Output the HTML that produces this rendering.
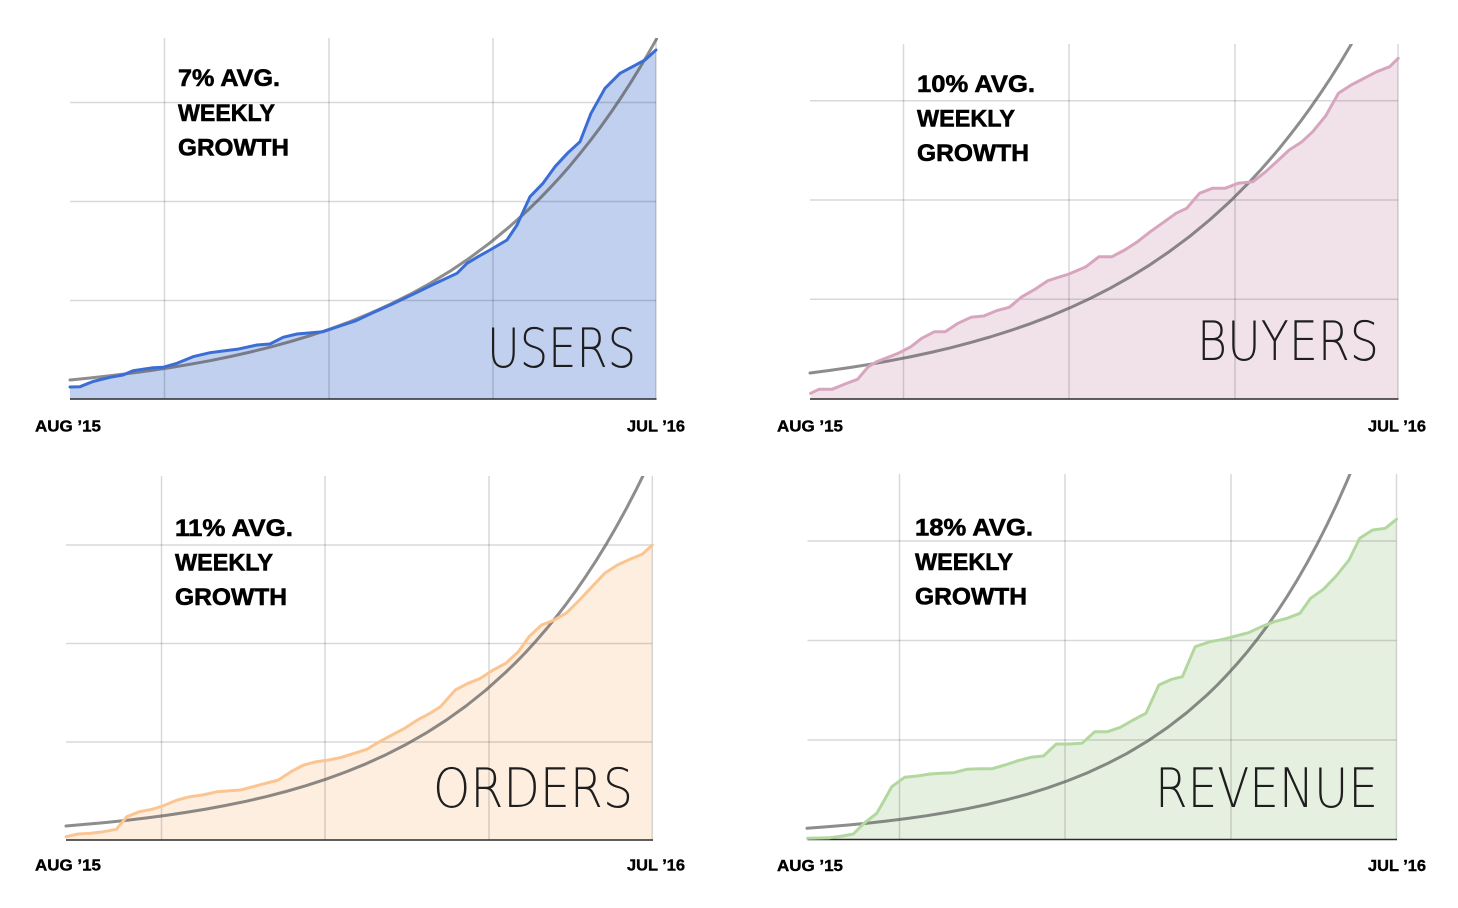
<!DOCTYPE html>
<html>
<head>
<meta charset="utf-8">
<style>
html,body{margin:0;padding:0;background:#fff;}
svg{display:block;}
.t{font-family:"Liberation Sans",Arial,sans-serif;font-weight:bold;fill:#000;stroke:#000;stroke-width:0.6;}
.ax{font-family:"Liberation Sans",Arial,sans-serif;font-weight:bold;font-size:16px;fill:#000;stroke:#000;stroke-width:0.4;}
.big{font-family:"DejaVu Sans ExtraLight","DejaVu Sans","Liberation Sans",sans-serif;font-weight:200;font-size:54px;fill:#1e1e1e;}
.grid{stroke:#000;stroke-opacity:0.15;stroke-width:1.5;fill:none;}
.base{stroke:#2a2a2a;stroke-width:1.5;}
.trend{fill:none;stroke:#505050;stroke-opacity:0.65;stroke-width:3;stroke-linejoin:round;stroke-linecap:round;}
.ser{fill:none;stroke-width:3;stroke-linejoin:round;stroke-linecap:round;}
</style>
</head>
<body>
<svg width="1458" height="908" viewBox="0 0 1458 908" xmlns="http://www.w3.org/2000/svg">
<defs>
<clipPath id="c1"><rect x="68" y="38" width="590" height="362"/></clipPath>
<clipPath id="c2"><rect x="808" y="44" width="592" height="356"/></clipPath>
<clipPath id="c3"><rect x="64" y="476" width="590" height="365"/></clipPath>
<clipPath id="c4"><rect x="805" y="474" width="593" height="366"/></clipPath>
</defs>
<rect width="1458" height="908" fill="#fff"/>

<!-- ============ CHART 1 USERS ============ -->
<polygon fill="#c1d0ef" points="70,387 80,386.7 93,381.5 110,377.3 123,375 133,370.7 153,367.7 163,367.3 177,363.3 193,356.7 210,352.7 223,351 237,349.3 257,345 270,344 283,337.3 297,334 317,332.3 323,331.7 340,326 356,320.7 373,312.7 394,303.3 415,293.3 432,285 457,273.3 467,263.3 478,256.7 490,250 507,240 517,225 530,196.7 543,183.3 555,166.7 568,152.7 580,141.7 591,113.3 605,88.3 620,73.3 632.5,66.7 645,60 656,50 656,399 70,399"/>
<g class="grid">
<line x1="70" y1="102.5" x2="656" y2="102.5"/>
<line x1="70" y1="201.5" x2="656" y2="201.5"/>
<line x1="70" y1="300.5" x2="656" y2="300.5"/>
<line x1="164.5" y1="38" x2="164.5" y2="399"/>
<line x1="329" y1="38" x2="329" y2="399"/>
<line x1="493" y1="38" x2="493" y2="399"/>
<line x1="656" y1="38" x2="656" y2="399"/>
</g>
<line class="base" x1="70" y1="399" x2="656.5" y2="399"/>
<g clip-path="url(#c1)">
<polyline class="trend" points="70,380 90,378 110,375.8 130,373.3 150,370.6 170,367.6 190,364.3 210,360.7 230,356.6 250,352.1 270,347.2 290,341.7 310,335.7 330,329 350,321.6 370,313.4 390,304.4 410,294.4 430,283.4 450,271.2 470,257.7 490,242.8 510,226.3 520,217.4 530,208.1 540,198.3 550,187.9 560,177.1 570,165.7 580,153.6 590,141 600,127.8 610,113.8 620,99.1 630,83.7 640,67.5 648,54 656,39.9 660,32.5"/>
</g>
<polyline class="ser" stroke="#3a6ed6" points="70,387 80,386.7 93,381.5 110,377.3 123,375 133,370.7 153,367.7 163,367.3 177,363.3 193,356.7 210,352.7 223,351 237,349.3 257,345 270,344 283,337.3 297,334 317,332.3 323,331.7 340,326 356,320.7 373,312.7 394,303.3 415,293.3 432,285 457,273.3 467,263.3 478,256.7 490,250 507,240 517,225 530,196.7 543,183.3 555,166.7 568,152.7 580,141.7 591,113.3 605,88.3 620,73.3 632.5,66.7 645,60 656,50"/>
<text class="t" x="178" y="86" font-size="24.5" textLength="102" lengthAdjust="spacingAndGlyphs">7% AVG.</text>
<text class="t" x="178" y="121" font-size="24.5" textLength="97" lengthAdjust="spacingAndGlyphs">WEEKLY</text>
<text class="t" x="178" y="155.5" font-size="24.5" textLength="111" lengthAdjust="spacingAndGlyphs">GROWTH</text>
<text class="big" x="487" y="367" textLength="149" lengthAdjust="spacingAndGlyphs">USERS</text>
<text class="ax" x="35" y="431.5" textLength="66" lengthAdjust="spacingAndGlyphs">AUG ’15</text>
<text class="ax" x="627" y="431.5" textLength="58" lengthAdjust="spacingAndGlyphs">JUL ’16</text>

<!-- ============ CHART 2 BUYERS ============ -->
<polygon fill="#f1e2ea" points="810.6,393.3 819,389.3 832,389.3 845,384 857.6,379.3 868.3,366.7 876.8,361.7 889.7,356.7 898.2,353.3 911,346.7 921.7,338.3 934.5,331.7 945.2,331.7 958,323.3 971,317.3 983.7,316 996.5,310.7 1009.3,307.3 1022,296.7 1035,289.3 1047.8,280.7 1069,274 1086,266.7 1099,256.7 1112,256.7 1124.7,250 1137.5,241.7 1150.3,231.7 1163,222.7 1176,213.3 1186.7,208.3 1199.5,193.3 1212.3,188.3 1225,188.3 1238,183.3 1253,181.7 1265.7,171.7 1278.5,160 1289.2,150 1302,141.7 1312.7,131.7 1325.6,116 1338.4,93.3 1351.2,85 1364,78.3 1376.8,71.7 1389.7,66.7 1398.2,58.3 1398.2,399 810.6,399"/>
<g class="grid">
<line x1="810" y1="100.8" x2="1398" y2="100.8"/>
<line x1="810" y1="200" x2="1398" y2="200"/>
<line x1="810" y1="299.3" x2="1398" y2="299.3"/>
<line x1="903.5" y1="44" x2="903.5" y2="399"/>
<line x1="1069" y1="44" x2="1069" y2="399"/>
<line x1="1235" y1="44" x2="1235" y2="399"/>
<line x1="1398" y1="44" x2="1398" y2="399"/>
</g>
<line class="base" x1="810" y1="399" x2="1398.5" y2="399"/>
<g clip-path="url(#c2)">
<polyline class="trend" points="810,373 830,370.4 850,367.5 870,364.3 890,360.7 910,356.9 930,352.6 950,347.9 970,342.7 990,337 1010,330.7 1030,323.8 1050,316.2 1070,307.8 1090,298.5 1110,288.3 1130,277.1 1150,264.8 1170,251.1 1190,236.2 1210,219.6 1230,201.5 1250,181.4 1260,170.7 1270,159.4 1280,147.6 1290,135.1 1300,122.1 1310,108.4 1320,94 1330,78.9 1340,63.1 1350,46.4 1360,29"/>
</g>
<polyline class="ser" stroke="#d8a5bf" points="810.6,393.3 819,389.3 832,389.3 845,384 857.6,379.3 868.3,366.7 876.8,361.7 889.7,356.7 898.2,353.3 911,346.7 921.7,338.3 934.5,331.7 945.2,331.7 958,323.3 971,317.3 983.7,316 996.5,310.7 1009.3,307.3 1022,296.7 1035,289.3 1047.8,280.7 1069,274 1086,266.7 1099,256.7 1112,256.7 1124.7,250 1137.5,241.7 1150.3,231.7 1163,222.7 1176,213.3 1186.7,208.3 1199.5,193.3 1212.3,188.3 1225,188.3 1238,183.3 1253,181.7 1265.7,171.7 1278.5,160 1289.2,150 1302,141.7 1312.7,131.7 1325.6,116 1338.4,93.3 1351.2,85 1364,78.3 1376.8,71.7 1389.7,66.7 1398.2,58.3"/>
<text class="t" x="917" y="92" font-size="24.5" textLength="118" lengthAdjust="spacingAndGlyphs">10% AVG.</text>
<text class="t" x="917" y="126.5" font-size="24.5" textLength="98" lengthAdjust="spacingAndGlyphs">WEEKLY</text>
<text class="t" x="917" y="161" font-size="24.5" textLength="112" lengthAdjust="spacingAndGlyphs">GROWTH</text>
<text class="big" x="1197" y="360" textLength="182" lengthAdjust="spacingAndGlyphs">BUYERS</text>
<text class="ax" x="777" y="431.5" textLength="66" lengthAdjust="spacingAndGlyphs">AUG ’15</text>
<text class="ax" x="1368" y="431.5" textLength="58" lengthAdjust="spacingAndGlyphs">JUL ’16</text>

<!-- ============ CHART 3 ORDERS ============ -->
<polygon fill="#fdeee0" points="66,836.7 78.4,834 91,833.3 103.7,831.7 116.3,829.3 126.8,816.7 139.5,811.7 152,809.3 162.6,806 177.4,800 190,796.7 202.6,795 217.4,791.7 230,790.7 240.5,790 253.2,786.7 265.8,783.3 278.4,780 291,771.7 303.7,765 316.3,761.7 329,760 341.6,757.3 354.2,753.3 366.8,749.3 379.5,741.7 392,735 404.7,728.3 417.4,720 430,713.3 440.5,706.7 455.3,690 468,683.3 480.5,678.3 493.2,670 505.8,663.3 518.4,651.7 529,636.7 541.6,625 554.2,620 566.8,612.7 579.5,600 592,586.7 604.7,573.3 617.4,565 630,559.3 642.6,554 652.3,545 652.3,840 66,840"/>
<g class="grid">
<line x1="66" y1="545" x2="652" y2="545"/>
<line x1="66" y1="643.5" x2="652" y2="643.5"/>
<line x1="66" y1="742" x2="652" y2="742"/>
<line x1="161.5" y1="476" x2="161.5" y2="840"/>
<line x1="325" y1="476" x2="325" y2="840"/>
<line x1="489" y1="476" x2="489" y2="840"/>
<line x1="652.3" y1="476" x2="652.3" y2="840"/>
</g>
<line class="base" x1="66" y1="840" x2="653" y2="840"/>
<g clip-path="url(#c3)">
<polyline class="trend" points="66,826 86,824.3 106,822.5 126,820.4 146,818 166,815.4 186,812.4 206,809.1 226,805.4 246,801.3 266,796.7 286,791.5 306,785.7 326,779.2 346,771.9 366,763.8 386,754.7 406,744.5 426,733.1 446,720.3 466,706 486,690 506,672 516,662.3 526,652 536,641 546,629.4 556,617.2 566,604.3 576,590.6 586,576.1 596,560.8 606,544.6 616,527.4 626,509.2 636,490 646,469.7"/>
</g>
<polyline class="ser" stroke="#fbc592" points="66,836.7 78.4,834 91,833.3 103.7,831.7 116.3,829.3 126.8,816.7 139.5,811.7 152,809.3 162.6,806 177.4,800 190,796.7 202.6,795 217.4,791.7 230,790.7 240.5,790 253.2,786.7 265.8,783.3 278.4,780 291,771.7 303.7,765 316.3,761.7 329,760 341.6,757.3 354.2,753.3 366.8,749.3 379.5,741.7 392,735 404.7,728.3 417.4,720 430,713.3 440.5,706.7 455.3,690 468,683.3 480.5,678.3 493.2,670 505.8,663.3 518.4,651.7 529,636.7 541.6,625 554.2,620 566.8,612.7 579.5,600 592,586.7 604.7,573.3 617.4,565 630,559.3 642.6,554 652.3,545"/>
<text class="t" x="175" y="536" font-size="24.5" textLength="118" lengthAdjust="spacingAndGlyphs">11% AVG.</text>
<text class="t" x="175" y="570.5" font-size="24.5" textLength="98" lengthAdjust="spacingAndGlyphs">WEEKLY</text>
<text class="t" x="175" y="605" font-size="24.5" textLength="112" lengthAdjust="spacingAndGlyphs">GROWTH</text>
<text class="big" x="433" y="807" textLength="200" lengthAdjust="spacingAndGlyphs">ORDERS</text>
<text class="ax" x="35" y="870.5" textLength="66" lengthAdjust="spacingAndGlyphs">AUG ’15</text>
<text class="ax" x="627" y="870.5" textLength="58" lengthAdjust="spacingAndGlyphs">JUL ’16</text>

<!-- ============ CHART 4 REVENUE ============ -->
<polygon fill="#e6f0e0" points="807.6,838.3 829.8,837.7 842.6,836 853.3,834 864,823.3 876.8,813.3 885.4,798.3 891.8,786.7 904.6,777.3 917.4,776 930.3,774 941,773.3 953.8,772.7 966.6,769.3 979.4,768.7 992.2,768.7 1005,765 1018,760.7 1030.7,757.3 1043.5,756 1056.3,744 1069.1,744 1082,743.3 1094.8,731.7 1107.6,731.7 1120.4,727.3 1133.2,720 1146,713.3 1158.9,685 1171.7,679.3 1182.4,676.7 1195.2,646.7 1210.2,641.7 1223,639.3 1235.8,636 1248.6,632.7 1261.5,626.7 1274.3,621.7 1287,618.3 1300,613.3 1310.6,598.3 1323.4,589.3 1336.2,576 1349,560 1359.7,538.3 1372.6,530 1385.4,528.3 1396.5,519.3 1396.5,839.5 807.6,839.5"/>
<g class="grid">
<line x1="807.5" y1="541" x2="1396.5" y2="541"/>
<line x1="807.5" y1="640.5" x2="1396.5" y2="640.5"/>
<line x1="807.5" y1="740" x2="1396.5" y2="740"/>
<line x1="899.5" y1="474" x2="899.5" y2="839.5"/>
<line x1="1065" y1="474" x2="1065" y2="839.5"/>
<line x1="1231" y1="474" x2="1231" y2="839.5"/>
<line x1="1396.5" y1="474" x2="1396.5" y2="839.5"/>
</g>
<line class="base" x1="807.5" y1="839.5" x2="1397" y2="839.5"/>
<g clip-path="url(#c4)">
<polyline class="trend" points="807,828.3 827,826.8 847,825.1 867,823.2 887,821 907,818.5 927,815.7 947,812.4 967,808.7 987,804.5 1007,799.7 1027,794.3 1047,788.1 1067,781 1087,773 1107,763.8 1127,753.4 1147,741.5 1167,727.9 1187,712.5 1207,695 1217,685.3 1227,674.9 1237,663.9 1247,652.2 1257,639.6 1267,626.2 1277,611.9 1287,596.7 1297,580.4 1307,563 1317,544.5 1327,524.7 1337,503.7 1347,481.1 1357,457.1"/>
</g>
<polyline class="ser" stroke="#b2d89f" points="807.6,838.3 829.8,837.7 842.6,836 853.3,834 864,823.3 876.8,813.3 885.4,798.3 891.8,786.7 904.6,777.3 917.4,776 930.3,774 941,773.3 953.8,772.7 966.6,769.3 979.4,768.7 992.2,768.7 1005,765 1018,760.7 1030.7,757.3 1043.5,756 1056.3,744 1069.1,744 1082,743.3 1094.8,731.7 1107.6,731.7 1120.4,727.3 1133.2,720 1146,713.3 1158.9,685 1171.7,679.3 1182.4,676.7 1195.2,646.7 1210.2,641.7 1223,639.3 1235.8,636 1248.6,632.7 1261.5,626.7 1274.3,621.7 1287,618.3 1300,613.3 1310.6,598.3 1323.4,589.3 1336.2,576 1349,560 1359.7,538.3 1372.6,530 1385.4,528.3 1396.5,519.3"/>
<text class="t" x="915" y="535.5" font-size="24.5" textLength="118" lengthAdjust="spacingAndGlyphs">18% AVG.</text>
<text class="t" x="915" y="570" font-size="24.5" textLength="98" lengthAdjust="spacingAndGlyphs">WEEKLY</text>
<text class="t" x="915" y="604.5" font-size="24.5" textLength="112" lengthAdjust="spacingAndGlyphs">GROWTH</text>
<text class="big" x="1155" y="807" textLength="223" lengthAdjust="spacingAndGlyphs">REVENUE</text>
<text class="ax" x="777" y="871" textLength="66" lengthAdjust="spacingAndGlyphs">AUG ’15</text>
<text class="ax" x="1368" y="871" textLength="58" lengthAdjust="spacingAndGlyphs">JUL ’16</text>
</svg>
</body>
</html>
